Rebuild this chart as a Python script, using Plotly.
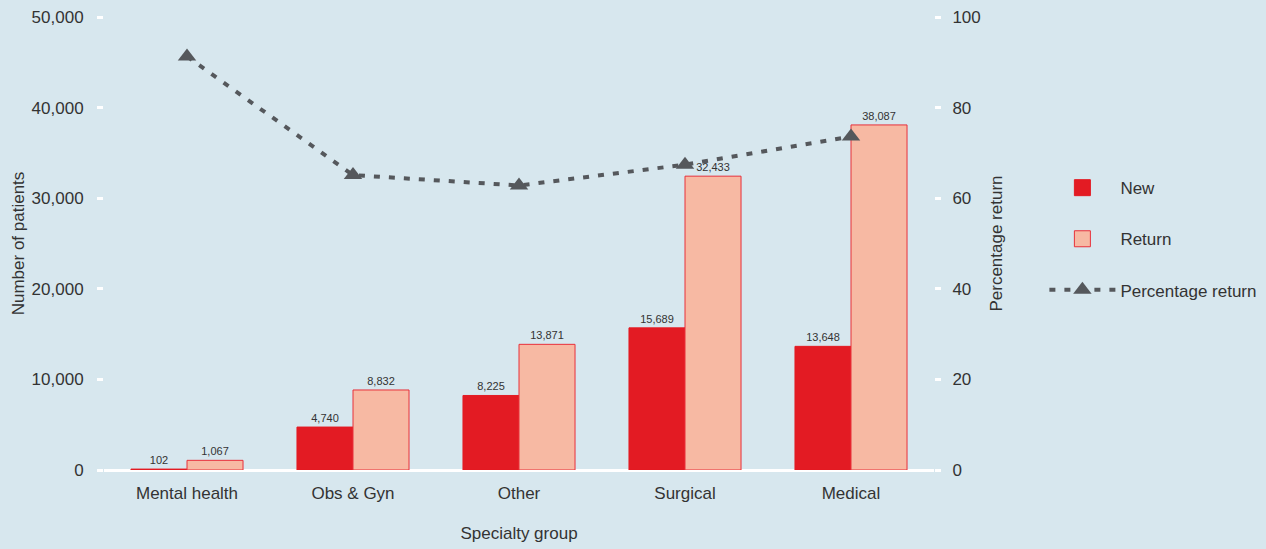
import plotly.graph_objects as go

categories = ["Mental health", "Obs & Gyn", "Other", "Surgical", "Medical"]
new_vals = [102, 4740, 8225, 15689, 13648]
return_vals = [1067, 8832, 13871, 32433, 38087]
pct_return = [91.3, 65.1, 62.8, 67.4, 73.6]

FONT = "Liberation Sans, Arial, Helvetica, sans-serif"
TXT = "#333333"
BG = "#d7e7ee"
NEW_C = "#e31b23"
RET_C = "#f7b9a3"
RET_LINE = "#e8303a"
LINE_C = "#55585c"

fig = go.Figure()
fig.add_trace(go.Bar(
    x=categories, y=new_vals, name="New",
    marker=dict(color=NEW_C, line=dict(color=NEW_C, width=1)),
    text=[f"{v:,}" for v in new_vals], textposition="outside",
    textfont=dict(size=11, color=TXT, family=FONT), cliponaxis=False,
    showlegend=False,
))
fig.add_trace(go.Bar(
    x=categories, y=return_vals, name="Return",
    marker=dict(color=RET_C, line=dict(color=RET_LINE, width=1)),
    text=[f"{v:,}" for v in return_vals], textposition="outside",
    textfont=dict(size=11, color=TXT, family=FONT), cliponaxis=False,
    showlegend=False,
))
fig.add_trace(go.Scatter(
    x=categories, y=pct_return, name="Percentage return", yaxis="y2",
    mode="lines+markers",
    line=dict(color=LINE_C, width=4, dash="6px,9px"),
    marker=dict(symbol="triangle-up", size=16, color=LINE_C),
    legendgroup="c", legendrank=3,
))
# legend-only entries with larger square swatches
fig.add_trace(go.Scatter(
    x=[None], y=[None], name="New", mode="markers",
    marker=dict(symbol="square", size=22, color=NEW_C, line=dict(color=NEW_C, width=1)),
    legendgroup="a", legendrank=1,
))
fig.add_trace(go.Scatter(
    x=[None], y=[None], name="Return", mode="markers",
    marker=dict(symbol="square", size=22, color=RET_C, line=dict(color=RET_LINE, width=1)),
    legendgroup="b", legendrank=2,
))

fig.update_layout(
    width=1266, height=549, autosize=False,
    paper_bgcolor=BG, plot_bgcolor=BG,
    margin=dict(l=104, r=332, t=17, b=79, autoexpand=False),
    barmode="group", bargap=0.325, bargroupgap=0,
    font=dict(family=FONT, color=TXT, size=17),
    xaxis=dict(
        showgrid=False, showline=False, ticks="", automargin=False,
        ticklabelstandoff=11,
        tickfont=dict(size=17, color=TXT),
        title=dict(text="Specialty group", font=dict(size=17, color=TXT), standoff=25),
    ),
    yaxis=dict(
        range=[0, 50000], dtick=10000, tickformat=",", automargin=False,
        showgrid=False, showline=False,
        ticks="outside", ticklen=6, tickwidth=3, tickcolor="white",
        ticklabelstandoff=10,
        zeroline=True, zerolinecolor="white", zerolinewidth=3,
        tickfont=dict(size=17, color=TXT),
        title=dict(text="Number of patients", font=dict(size=17, color=TXT), standoff=2),
    ),
    yaxis2=dict(
        range=[0, 100], dtick=20, overlaying="y", side="right", automargin=False,
        showgrid=False, showline=False,
        ticks="outside", ticklen=6, tickwidth=3, tickcolor="white",
        ticklabelstandoff=8,
        zeroline=False,
        tickfont=dict(size=17, color=TXT),
        title=dict(text="Percentage return", font=dict(size=17, color=TXT), standoff=10),
    ),
    legend=dict(
        x=1.133, y=0.662, xanchor="left", yanchor="top",
        bgcolor="rgba(0,0,0,0)", font=dict(size=17, color=TXT),
        traceorder="grouped", tracegroupgap=26,
        itemsizing="trace", itemwidth=66,
    ),
)

fig.write_html(
    "out.html",
    config={"displayModeBar": False},
    post_script="document.body.style.margin='0';document.body.style.background='#d7e7ee';",
)
